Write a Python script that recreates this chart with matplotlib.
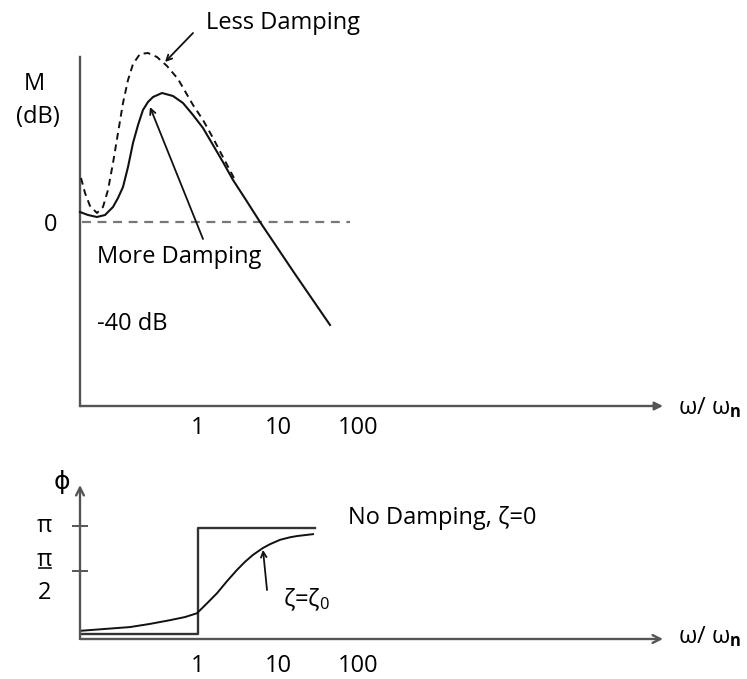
import matplotlib.pyplot as plt

plt.rcParams['font.family'] = ['Open Sans', 'DejaVu Sans']
plt.rcParams['mathtext.fontset'] = 'custom'
plt.rcParams['mathtext.rm'] = 'Open Sans'
plt.rcParams['mathtext.it'] = 'Open Sans'
plt.rcParams['mathtext.bf'] = 'Open Sans:bold'

# magnitude sketch (omega / omega_n, dB)
w_more = [0.0335, 0.0422, 0.0546, 0.0688, 0.0866, 0.1, 0.1155, 0.1334, 0.154, 0.178,
          0.205, 0.237, 0.274, 0.355, 0.487, 0.649, 0.866, 1.155, 1.54, 2.05, 2.74,
          3.98, 5.96, 16.3, 44.7]
db_more = [4, 2.8, 2, 2.8, 6, 9.6, 14, 22, 31.6, 38.8, 44.8, 48, 50, 51.6, 50.4, 47.6,
           42.8, 37.6, 30.8, 24, 16.8, 8.8, 0, -20.8, -41.2]

w_less = [0.0345, 0.0387, 0.0447, 0.0546, 0.0649, 0.075, 0.0866, 0.1, 0.1155, 0.1334,
          0.154, 0.188, 0.237, 0.307, 0.41, 0.562, 0.866, 1.155, 1.54, 2.05, 2.9]
db_less = [17.6, 11.6, 6.4, 3.6, 6, 12.8, 23.6, 35.6, 47.6, 56.8, 63.2, 67.2, 67.6, 66,
           62.4, 57.2, 46.8, 40.8, 33.6, 26, 16.8]

w_zero = [0.0355, 79]
db_zero = [0, 0]

# phase sketch (degrees)
w_step = [0.0355, 1, 1, 29]
ph_step = [8, 8, 177, 177]

w_zeta = [0.0335, 0.141, 0.25, 0.447, 0.69, 0.97, 1.3, 1.73, 2.3, 3.07, 3.87, 4.87,
          6.49, 7.94, 10.6, 14.1, 17.3, 27.4]
ph_zeta = [13, 19, 24, 30, 35, 41, 57, 73, 92, 110, 123, 134, 145, 151, 158, 162, 164, 167]

freq_ticks = [1, 10, 100]
freq_labels = ['1', '10', '100']
phase_ticks = [108, 180]

ink = '#111111'
axis_c = '#555555'
fs = 17
xlab = r'ω/ ω$_{\mathbf{n}}$'

fig = plt.figure(figsize=(7.47, 6.79), dpi=100)

# ---- magnitude ----
ax = fig.add_axes([80 / 747, 273 / 679, 583 / 747, 349 / 679])
ax.set_xscale('log')
ax.set_xlim(0.0335, 6.49e5)
ax.set_ylim(-73.6, 66)
for s in ax.spines.values():
    s.set_visible(False)
ax.plot([0, 0], [0, 1], transform=ax.transAxes, color=axis_c, lw=1.7, clip_on=False)
ax.annotate('', xy=(1, 0), xytext=(0, 0), xycoords='axes fraction',
            arrowprops=dict(arrowstyle='-|>', color=axis_c, lw=1.7, shrinkA=0, shrinkB=0,
                            mutation_scale=12))

ax.plot(w_zero, db_zero, color='#777777', lw=1.6, ls=(0, (4, 3)))
ax.plot(w_less, db_less, color=ink, lw=1.4, ls=(0, (3.5, 2.5)), clip_on=False)
ax.plot(w_more, db_more, color=ink, lw=1.5, clip_on=False)

ax.set_xticks(freq_ticks)
ax.set_xticklabels(freq_labels, fontsize=fs)
ax.xaxis.set_minor_locator(plt.NullLocator())
ax.tick_params(axis='x', length=0, pad=7)
ax.set_yticks([0])
ax.set_yticklabels(['0'], fontsize=fs)
ax.tick_params(axis='y', length=0, pad=16)

ax.text(0.0091, 55, 'M', fontsize=fs, ha='center', va='center', clip_on=False)
ax.text(0.0100, 42, '(dB)', fontsize=fs, ha='center', va='center', clip_on=False)
ax.text(1.0e6, -74.4, xlab, fontsize=fs, ha='left', va='center', clip_on=False)

ax.text(11.5, 79.6, 'Less Damping', fontsize=fs, ha='center', va='center', clip_on=False)
ax.annotate('', xy=(0.387, 64), xytext=(0.866, 75.6), annotation_clip=False,
            arrowprops=dict(arrowstyle='->', color=ink, lw=1.3, shrinkA=0, shrinkB=0))
ax.annotate('', xy=(0.251, 46), xytext=(1.155, -6.8),
            arrowprops=dict(arrowstyle='->', color=ink, lw=1.3, shrinkA=0, shrinkB=0))
ax.text(0.0546, -14, 'More Damping', fontsize=fs, ha='left', va='center')
ax.text(0.0546, -40.8, '-40 dB', fontsize=fs, ha='left', va='center')

# ---- phase ----
bx = fig.add_axes([80 / 747, 40 / 679, 583 / 747, 154 / 679])
bx.set_xscale('log')
bx.set_xlim(0.0335, 6.49e5)
bx.set_ylim(0, 245.3)
for s in bx.spines.values():
    s.set_visible(False)
bx.annotate('', xy=(0, 1), xytext=(0, 0), xycoords='axes fraction',
            arrowprops=dict(arrowstyle='->', color=axis_c, lw=1.7, shrinkA=0, shrinkB=0,
                            mutation_scale=14))
bx.annotate('', xy=(1, 0), xytext=(0, 0), xycoords='axes fraction',
            arrowprops=dict(arrowstyle='->', color=axis_c, lw=1.7, shrinkA=0, shrinkB=0,
                            mutation_scale=14))

bx.plot(w_step, ph_step, color='#333333', lw=1.7)
bx.plot(w_zeta, ph_zeta, color=ink, lw=1.4)

bx.set_xticks(freq_ticks)
bx.set_xticklabels(freq_labels, fontsize=fs)
bx.xaxis.set_minor_locator(plt.NullLocator())
bx.tick_params(axis='x', length=0, pad=11)
bx.set_yticks(phase_ticks)
bx.set_yticklabels([])
bx.tick_params(axis='y', direction='inout', length=12, width=1.4, color=axis_c)

bx.text(0.0122, 180, 'π', fontsize=fs, ha='center', va='center', clip_on=False)
bx.text(0.0122, 126, 'π', fontsize=fs, ha='center', va='center', clip_on=False)
bx.plot([0.0103, 0.0145], [113, 113], color=ink, lw=1.2, clip_on=False)
bx.text(0.0122, 73, '2', fontsize=fs, ha='center', va='center', clip_on=False)
bx.text(0.02, 250, 'ϕ', fontsize=fs + 1, ha='center', va='center', clip_on=False)

bx.text(75, 193, 'No Damping, ζ=0', fontsize=fs, ha='left', va='center')
bx.annotate('', xy=(6.49, 142), xytext=(7.29, 78),
            arrowprops=dict(arrowstyle='->', color=ink, lw=1.3, shrinkA=0, shrinkB=0))
bx.text(11.5, 62, r'ζ=ζ$_{\mathrm{0}}$', fontsize=fs, ha='left', va='center')
bx.text(1.0e6, 3, xlab, fontsize=fs, ha='left', va='center', clip_on=False)

fig.savefig('out.png', dpi=100)
